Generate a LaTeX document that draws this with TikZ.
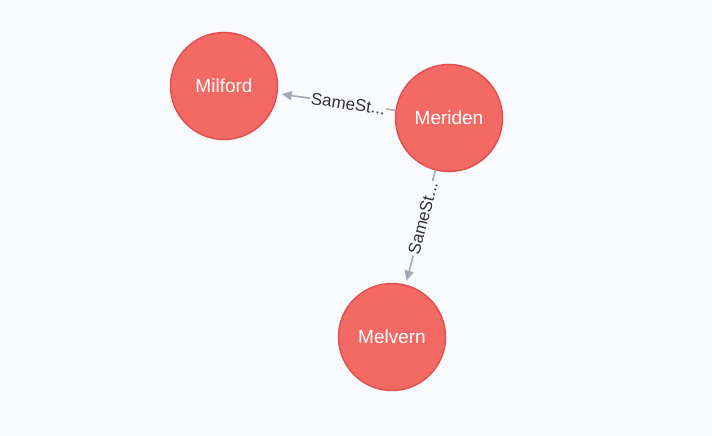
\documentclass[tikz,border=0pt]{standalone}
\usepackage{fontspec}
\setmainfont{Liberation Sans}
\usetikzlibrary{arrows.meta}
\definecolor{bgcol}{HTML}{F8FAFD}
\definecolor{nodered}{HTML}{F36963}
\definecolor{noderim}{HTML}{E2514F}
\definecolor{relgrey}{HTML}{A5ABB6}
\begin{document}
\begin{tikzpicture}[x=1pt,y=-1pt,
  city/.style={circle,fill=nodered,draw=noderim,line width=1.5pt,minimum size=107pt,inner sep=0pt,text=white,font=\fontsize{19}{21}\selectfont},
  rel/.style={draw=relgrey,line width=1.6pt,shorten >=4pt,-{Triangle[length=10pt,width=9pt]}},
  lbl/.style={fill=bgcol,sloped,inner sep=1pt,text=black!80,font=\fontsize{17}{19}\selectfont}]
\fill[bgcol] (0,0) rectangle (712,436);
\useasboundingbox (0,0) rectangle (712,436);
\node[city] (mil) at (224,86) {Milford};
\node[city] (mer) at (449,118) {Meriden};
\node[city] (mel) at (392,337) {Melvern};

\path (mer) edge [rel] node [lbl,pos=0.4] {SameSt...} (mil)
      (mer) edge [rel] node [lbl,pos=0.42] {SameSt...} (mel);
\end{tikzpicture}
\end{document}
